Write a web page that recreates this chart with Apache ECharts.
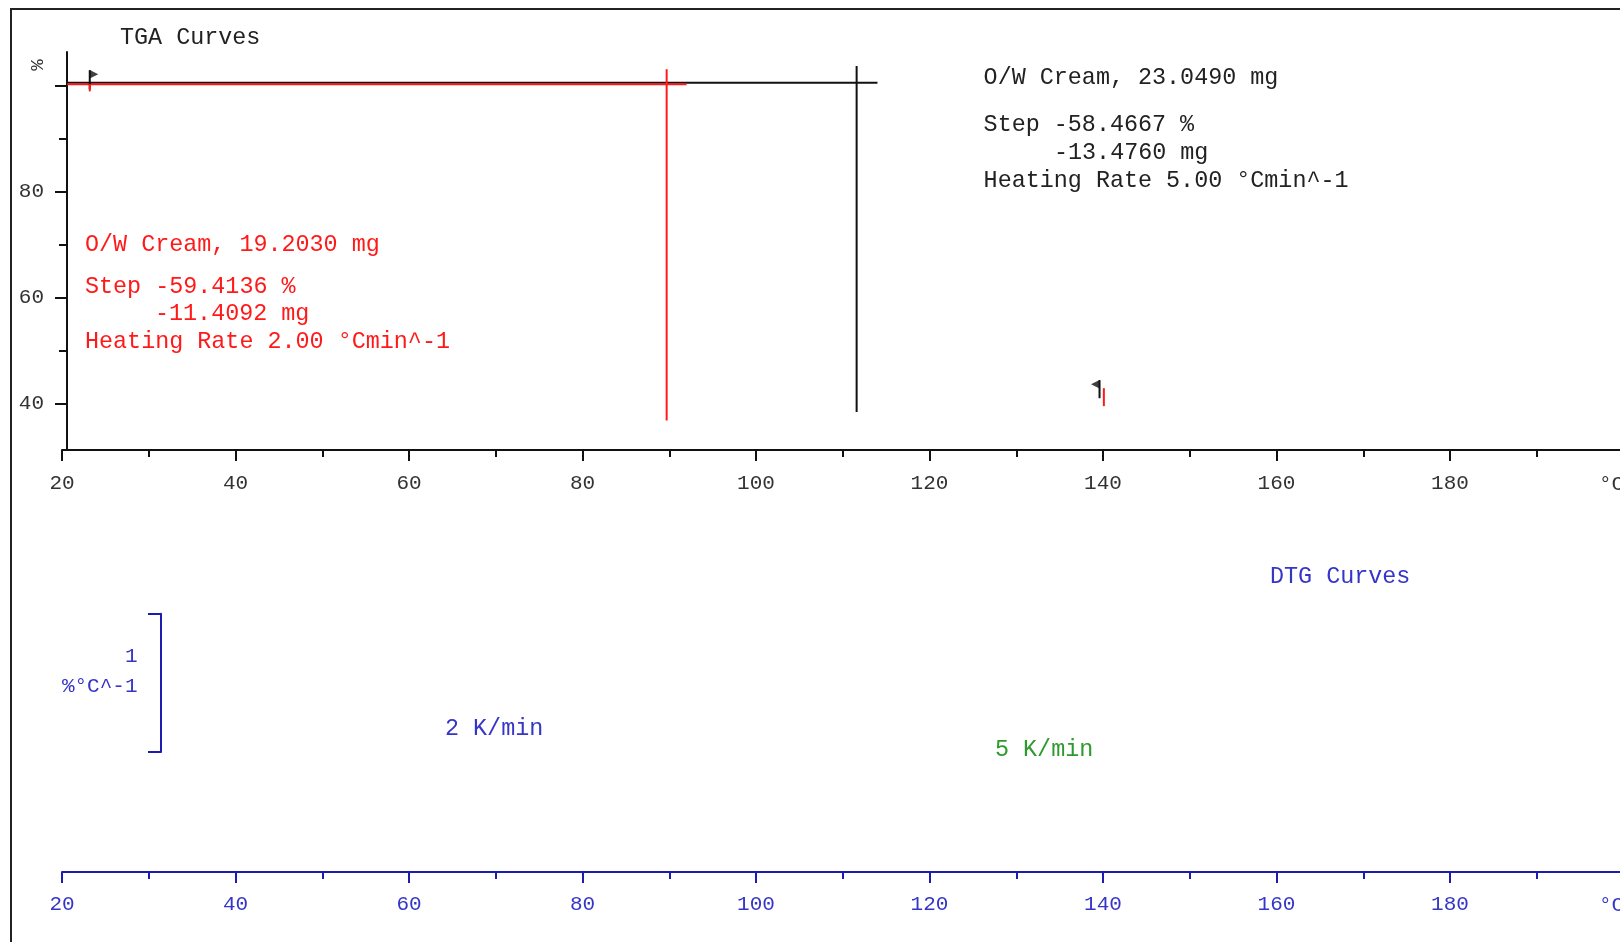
<!DOCTYPE html>
<html>
<head>
<meta charset="utf-8">
<script src="https://cdn.jsdelivr.net/npm/echarts@6.0.0/dist/echarts.min.js"></script>
<style>
  html, body { margin: 0; padding: 0; background: #fff; overflow: hidden; }
  #main { position: absolute; left: 0; top: 0; width: 1700px; height: 942px; }
</style>
</head>
<body>
<div id="main"></div>
<script>
// temperature axis (°C)
var tempMin = 20, tempMax = 200;
// TGA axis (%)
var tgaMajorTicks = [40, 60, 80, 100];
var tgaMinorTicks = [50, 70, 90];
var tgaLabels = [40, 60, 80];

// step evaluation lines, [°C, %]
var redBaseline = [[20.6, 100.36], [92.0, 100.36]];
var blackBaseline = [[20.6, 100.64], [114.0, 100.64]];
var redStepLine = [[89.7, 103.2], [89.7, 36.8]];
var blackStepLine = [[111.6, 103.8], [111.6, 38.4]];

// curve start / end flags
var blackStartFlag = [[23.2, 103.0], [23.2, 99.4]];
var redStartFlag = [[23.2, 100.4], [23.2, 99.0]];
var blackEndFlag = [[139.6, 44.4], [139.6, 41.0]];
var redEndFlag = [[140.1, 42.9], [140.1, 39.5]];

var FONT = '"Liberation Mono", "DejaVu Sans Mono", monospace';
var BLUE = '#1c1cb0';
var BLUE_TXT = '#3535c8';
var RED = '#ff1a1a';
var BLK = '#111';

var chart = echarts.init(document.getElementById('main'));

function seg(data, color, w) {
    return {
        type: 'line', xAxisIndex: 0, yAxisIndex: 0,
        data: data, symbol: 'none', silent: true,
        lineStyle: {color: color, width: w || 2}
    };
}

function txt(x, y, s, color, size, align) {
    return {
        type: 'text', x: x, y: y,
        style: {
            text: s, fill: color, fontFamily: FONT, fontSize: size || 23.4,
            textVerticalAlign: 'middle', textAlign: align || 'left'
        }
    };
}

var option = {
    animation: false,
    backgroundColor: '#fff',
    grid: [
        {left: 62, top: 52, width: 1561.5, height: 398},
        {left: 62, top: 600, width: 1561.5, height: 272},
        {left: 161, top: 613.7, width: 10, height: 138.3}
    ],
    xAxis: [
        {
            gridIndex: 0, type: 'value', min: tempMin, max: tempMax, interval: 20,
            axisLine: {lineStyle: {color: BLK, width: 2}},
            axisTick: {length: 11, lineStyle: {color: BLK, width: 2}},
            minorTick: {show: true, splitNumber: 2, length: 7, lineStyle: {color: BLK, width: 2}},
            splitLine: {show: false},
            axisLabel: {
                margin: 23, fontFamily: FONT, fontSize: 21, color: '#333',
                formatter: function (v) { return v === tempMax ? '' : v; }
            }
        },
        {
            gridIndex: 1, type: 'value', min: tempMin, max: tempMax, interval: 20,
            axisLine: {onZero: false, lineStyle: {color: BLUE, width: 2}},
            axisTick: {length: 11, lineStyle: {color: BLUE, width: 2}},
            minorTick: {show: true, splitNumber: 2, length: 7, lineStyle: {color: BLUE, width: 2}},
            splitLine: {show: false},
            axisLabel: {
                margin: 22, fontFamily: FONT, fontSize: 21, color: BLUE_TXT,
                formatter: function (v) { return v === tempMax ? '' : v; }
            }
        },
        {gridIndex: 2, type: 'value', min: 0, max: 1, show: false}
    ],
    yAxis: [
        {
            gridIndex: 0, type: 'value', position: 'left', min: 31.21, max: 106.45, offset: -5,
            axisLine: {show: true, lineStyle: {color: BLK, width: 2}},
            axisTick: {show: true, length: 12, customValues: tgaMajorTicks, lineStyle: {color: BLK, width: 2}},
            axisLabel: {customValues: tgaLabels, margin: 23, fontFamily: FONT, fontSize: 21, color: '#333'},
            splitLine: {show: false}
        },
        {
            gridIndex: 0, type: 'value', position: 'left', min: 31.21, max: 106.45, offset: -5,
            axisLine: {show: false},
            axisTick: {show: true, length: 8, customValues: tgaMinorTicks, lineStyle: {color: BLK, width: 2}},
            axisLabel: {show: false},
            splitLine: {show: false}
        },
        {gridIndex: 1, type: 'value', min: 0, max: 1, show: false},
        {
            // DTG scale bar: 1 %°C^-1
            gridIndex: 2, type: 'value', position: 'left', min: 0, max: 1, interval: 1,
            axisLine: {show: true, lineStyle: {color: BLUE, width: 2}},
            axisTick: {show: true, length: 13, lineStyle: {color: BLUE, width: 2}},
            axisLabel: {show: false},
            splitLine: {show: false}
        }
    ],
    series: [
        seg(blackBaseline, BLK),
        seg(redBaseline, RED),
        seg(redStepLine, RED),
        seg(blackStepLine, BLK),
        seg(blackStartFlag, BLK),
        seg(redStartFlag, RED),
        seg(blackEndFlag, BLK),
        seg(redEndFlag, RED),
        {
            type: 'scatter', xAxisIndex: 0, yAxisIndex: 0, silent: true,
            data: [blackStartFlag[0]], symbol: 'triangle', symbolSize: [9, 9],
            symbolRotate: -90, symbolOffset: [4, 4], itemStyle: {color: BLK}
        },
        {
            type: 'scatter', xAxisIndex: 0, yAxisIndex: 0, silent: true,
            data: [blackEndFlag[0]], symbol: 'triangle', symbolSize: [9, 9],
            symbolRotate: 90, symbolOffset: [-4, 4], itemStyle: {color: BLK}
        }
    ],
    graphic: [
        {
            type: 'rect', shape: {x: 11, y: 9, width: 3000, height: 3000},
            style: {fill: null, stroke: '#222', lineWidth: 2}, z: -1
        },
        txt(120, 37.5, 'TGA Curves', '#222'),
        {
            type: 'text', x: 38, y: 65, rotation: Math.PI / 2,
            style: {text: '%', fill: '#333', fontFamily: FONT, fontSize: 19,
                textAlign: 'center', textVerticalAlign: 'middle'}
        },
        txt(1599, 484, '°C', '#333', 21),

        txt(85, 245, 'O/W Cream, 19.2030 mg', RED),
        txt(85, 287, 'Step -59.4136 %', RED),
        txt(155, 314, '-11.4092 mg', RED),
        txt(85, 342, 'Heating Rate 2.00 °Cmin^-1', RED),

        txt(983.6, 77.5, 'O/W Cream, 23.0490 mg', '#222'),
        txt(983.6, 125, 'Step -58.4667 %', '#222'),
        txt(1054, 153, '-13.4760 mg', '#222'),
        txt(983.6, 181, 'Heating Rate 5.00 °Cmin^-1', '#222'),

        txt(1270, 576.5, 'DTG Curves', BLUE_TXT),
        txt(137.5, 656, '1', BLUE_TXT, 21, 'right'),
        txt(137.5, 686, '%°C^-1', BLUE_TXT, 21, 'right'),
        txt(445, 728.5, '2 K/min', BLUE_TXT),
        txt(995, 750, '5 K/min', '#2e9a2e'),
        txt(1599, 905, '°C', BLUE_TXT, 21)
    ]
};
chart.setOption(option);
</script>
</body>
</html>
